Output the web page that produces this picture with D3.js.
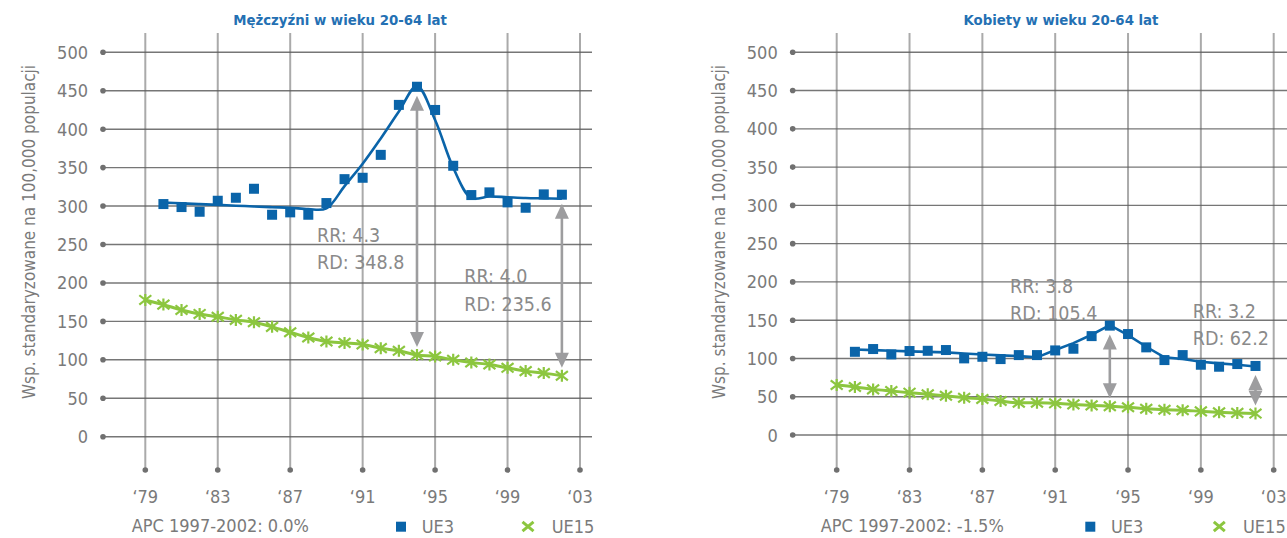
<!DOCTYPE html>
<html>
<head>
<meta charset="utf-8">
<script src="https://cdn.jsdelivr.net/npm/d3@7"></script>
<style>
  html, body { margin: 0; padding: 0; background: #ffffff; }
  svg { display: block; }
  text { font-family: "DejaVu Sans Condensed", "DejaVu Sans", sans-serif; font-stretch: condensed; }
</style>
</head>
<body>
<svg id="chart" width="1287" height="538"></svg>
<script>
// ---- data ----
const yearsUE3  = [1980,1981,1982,1983,1984,1985,1986,1987,1988,1989,1990,1991,1992,1993,1994,1995,1996,1997,1998,1999,2000,2001,2002];
const yearsUE15 = [1979,1980,1981,1982,1983,1984,1985,1986,1987,1988,1989,1990,1991,1992,1993,1994,1995,1996,1997,1998,1999,2000,2001,2002];

// Men aged 20-64
const menUE3      = [302.6,298.7,292.6,306.9,310.8,322.5,288.7,291.8,288.7,303.9,335.0,336.8,366.6,431.6,455.2,425.0,352.4,314.3,317.8,304.8,297.8,315.2,314.8];
const menUE3Trend = [304.5,303.5,302.5,301.5,300.5,299.5,298.5,297.8,296.0,297.0,326.0,355.0,388.0,423.0,456.0,412.0,350.0,310.5,312.5,311.5,310.5,310.0,309.5];
const menUE15     = [177.9,171.8,164.9,159.7,156.0,151.9,148.9,142.9,135.9,129.0,123.8,122.0,120.0,115.2,111.7,106.4,104.3,100.0,96.5,93.9,89.6,85.3,82.7,79.2];

// Women aged 20-64
const womenUE3      = [108.7,112.3,105.3,109.7,110.0,111.0,100.1,102.2,99.2,104.4,104.4,110.5,112.7,129.2,142.9,131.9,114.5,97.9,104.4,91.8,89.2,92.7,90.2];
const womenUE3Trend = [111.8,110.9,110.1,109.3,108.6,107.9,106.5,105.2,104.0,103.1,101.4,111.0,120.0,131.0,143.6,130.5,115.3,101.4,99.2,95.7,93.6,91.8,89.6];
const womenUE15     = [65.3,62.7,59.6,57.4,55.3,53.1,51.3,48.7,47.0,44.4,42.2,42.2,41.4,40.0,38.7,37.5,36.2,34.3,33.0,32.4,30.9,29.6,28.9,28.0];

const yTicks      = [0,50,100,150,200,250,300,350,400,450,500];
const xTickYears  = [1979,1983,1987,1991,1995,1999,2003];
const xTickLabels = ["‘79","‘83","‘87","‘91","‘95","‘99","‘03"];
const gapYears    = [1994, 2002];
const seriesNames = ["UE3", "UE15"];
const panelTitles = ["Mężczyźni w wieku 20-64 lat", "Kobiety w wieku 20-64 lat"];
const apcLabels   = ["APC 1997-2002: 0.0%", "APC 1997-2002: -1.5%"];
const yAxisTitle  = "Wsp. standaryzowane na 100,000 populacji";

// ---- styling ----
const BLUE = "#0a64a9";
const TITLE_BLUE = "#2470b3";
const GREEN = "#8cc63f";
const TEXT_GREY = "#7a7a7a";
const ARROW_GREY = "#9d9d9f";

const svg = d3.select("#chart");

const panels = [
  {
    title: panelTitles[0], ue3: menUE3, trend: menUE3Trend, ue15: menUE15, apc: apcLabels[0],
    xRange: [145.3, 580], yRange: [436.7, 52.3], gridLeft: 103, gridRight: 592,
    titleX: 340, yTitleX: 29, trendCurve: d3.curveCatmullRom.alpha(0.5),
    labelPos: [[317, 241.7], [464.3, 283.3]],
    apcX: 131.7, legendSquareX: 396, legendStarX: 528
  },
  {
    title: panelTitles[1], ue3: womenUE3, trend: womenUE3Trend, ue15: womenUE15, apc: apcLabels[1],
    xRange: [836.7, 1273.7], yRange: [435, 52.3], gridLeft: 792.7, gridRight: 1290,
    titleX: 1061, yTitleX: 719, trendCurve: d3.curveLinear,
    labelPos: [[1010, 292.7], [1192.7, 318]],
    apcX: 820.7, legendSquareX: 1085.3, legendStarX: 1219.3
  }
];

// six-armed star used for the UE15 markers
function starPath(r) {
  const a = r, b = r * 0.78;
  return `M${-a},${-b}L${a},${b}M${-a},${b}L${a},${-b}M0,${-r}L0,${r}`;
}
function crossPath(r) {
  const b = r * 0.85;
  return `M${-r},${-b}L${r},${b}M${-r},${b}L${r},${-b}`;
}

panels.forEach(p => {
  const g = svg.append("g");
  const x = d3.scaleLinear().domain([1979, 2003]).range(p.xRange);
  const y = d3.scaleLinear().domain([0, 500]).range(p.yRange);

  // vertical grid + bottom dots
  const vTop = 33, vBottom = 470;
  g.append("g").selectAll("line").data(xTickYears).join("line")
    .attr("x1", d => x(d)).attr("x2", d => x(d))
    .attr("y1", vTop).attr("y2", vBottom)
    .attr("stroke", "#8e8e8e").attr("stroke-opacity", 0.75).attr("stroke-width", 2);
  g.append("g").selectAll("circle").data(xTickYears).join("circle")
    .attr("cx", d => x(d)).attr("cy", vBottom).attr("r", 2.8).attr("fill", "#707070");

  // horizontal grid + left dots
  g.append("g").selectAll("line").data(yTicks).join("line")
    .attr("x1", p.gridLeft).attr("x2", p.gridRight)
    .attr("y1", d => y(d)).attr("y2", d => y(d))
    .attr("stroke", "#5e5e5e").attr("stroke-opacity", 0.85).attr("stroke-width", 1.4);
  g.append("g").selectAll("circle").data(yTicks).join("circle")
    .attr("cx", p.gridLeft).attr("cy", d => y(d)).attr("r", 2.8).attr("fill", "#707070");

  // y tick labels
  g.append("g").selectAll("text").data(yTicks).join("text")
    .attr("x", p.gridLeft - 15).attr("y", d => y(d) + 6.5)
    .attr("text-anchor", "end").attr("font-size", 18).attr("font-weight", 300)
    .attr("fill", TEXT_GREY).text(d => d);

  // x tick labels
  g.append("g").selectAll("text").data(xTickYears).join("text")
    .attr("x", (d) => x(d)).attr("y", 503)
    .attr("text-anchor", "middle").attr("font-size", 18).attr("font-weight", 300)
    .attr("fill", TEXT_GREY).text((d, i) => xTickLabels[i]);

  // title
  g.append("text").attr("x", p.titleX).attr("y", 25)
    .attr("text-anchor", "middle").attr("font-size", 14.8).attr("font-weight", 700)
    .attr("fill", TITLE_BLUE).text(p.title);

  // y axis title
  g.append("text")
    .attr("transform", `translate(${p.yTitleX + 6},232) rotate(-90)`)
    .attr("text-anchor", "middle").attr("font-size", 17).attr("font-weight", 300)
    .attr("fill", TEXT_GREY).text(yAxisTitle);

  // gap arrows between the two series
  gapYears.forEach(yr => {
    const v3 = p.ue3[yearsUE3.indexOf(yr)];
    const v15 = p.ue15[yearsUE15.indexOf(yr)];
    const cx = x(yr);
    const top = y(v3) + 9, bottom = y(v15) - 8;
    const hh = 15, hw = 7;
    g.append("line").attr("x1", cx).attr("x2", cx)
      .attr("y1", top + hh - 1).attr("y2", bottom - hh + 1)
      .attr("stroke", ARROW_GREY).attr("stroke-width", 2.6);
    g.append("path")
      .attr("d", `M${cx},${top}L${cx - hw},${top + hh}L${cx + hw},${top + hh}Z`)
      .attr("fill", ARROW_GREY);
    g.append("path")
      .attr("d", `M${cx},${bottom}L${cx - hw},${bottom - hh}L${cx + hw},${bottom - hh}Z`)
      .attr("fill", ARROW_GREY);
  });

  // UE15 line + markers
  g.append("path")
    .datum(yearsUE15.map((yr, i) => [yr, p.ue15[i]]))
    .attr("d", d3.line().x(d => x(d[0])).y(d => y(d[1])).curve(d3.curveMonotoneX))
    .attr("fill", "none").attr("stroke", GREEN).attr("stroke-width", 3);
  g.append("g").selectAll("path").data(yearsUE15).join("path")
    .attr("transform", (d, i) => `translate(${x(d)},${y(p.ue15[i])})`)
    .attr("d", starPath(6)).attr("fill", "none")
    .attr("stroke", GREEN).attr("stroke-width", 2.2);

  // UE3 trend line + markers
  g.append("path")
    .datum(yearsUE3.map((yr, i) => [yr, p.trend[i]]))
    .attr("d", d3.line().x(d => x(d[0])).y(d => y(d[1])).curve(p.trendCurve))
    .attr("fill", "none").attr("stroke", BLUE).attr("stroke-width", 2.6)
    .attr("stroke-linejoin", "round");
  g.append("g").selectAll("rect").data(yearsUE3).join("rect")
    .attr("x", d => x(d) - 5).attr("y", (d, i) => y(p.ue3[i]) - 5)
    .attr("width", 10).attr("height", 10).attr("fill", BLUE);

  // RR / RD annotations computed from the series
  gapYears.forEach((yr, k) => {
    const v3 = p.ue3[yearsUE3.indexOf(yr)];
    const v15 = p.ue15[yearsUE15.indexOf(yr)];
    const [lx, ly] = p.labelPos[k];
    const t = g.append("text").attr("font-size", 19.5).attr("font-weight", 300).attr("fill", "#8a8a8a");
    t.append("tspan").attr("x", lx).attr("y", ly).text(`RR: ${(v3 / v15).toFixed(1)}`);
    t.append("tspan").attr("x", lx).attr("y", ly + 27.3).text(`RD: ${(v3 - v15).toFixed(1)}`);
  });

  // APC note and legend
  g.append("text").attr("x", p.apcX).attr("y", 531.5)
    .attr("font-size", 18).attr("font-weight", 300).attr("fill", TEXT_GREY).text(p.apc);
  g.append("rect").attr("x", p.legendSquareX).attr("y", 521.7)
    .attr("width", 10).attr("height", 10).attr("fill", BLUE);
  g.append("text").attr("x", p.legendSquareX + 25.7).attr("y", 533)
    .attr("font-size", 18).attr("font-weight", 300).attr("fill", TEXT_GREY).text(seriesNames[0]);
  g.append("path").attr("transform", `translate(${p.legendStarX},526.5)`)
    .attr("d", crossPath(5.5)).attr("fill", "none")
    .attr("stroke", GREEN).attr("stroke-width", 3);
  g.append("text").attr("x", p.legendStarX + 23.7).attr("y", 533)
    .attr("font-size", 18).attr("font-weight", 300).attr("fill", TEXT_GREY).text(seriesNames[1]);
});
</script>
</body>
</html>
